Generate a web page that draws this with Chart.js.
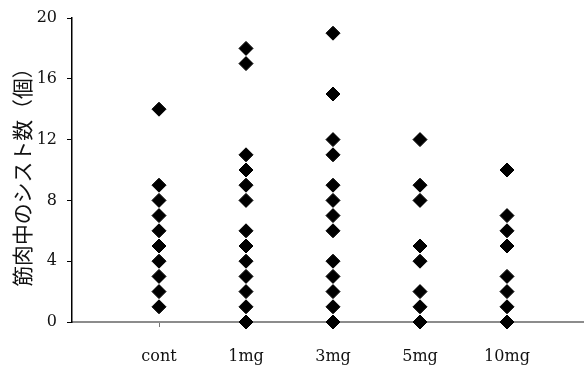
<!DOCTYPE html>
<html>
<head>
<meta charset="utf-8">
<script src="https://cdn.jsdelivr.net/npm/chart.js@4/dist/chart.umd.min.js"></script>
<style>
html,body{margin:0;padding:0;background:#fff;}
#wrap{width:584px;height:369px;}
</style>
</head>
<body>
<div id="wrap"><canvas id="c" width="584" height="369"></canvas></div>
<script>
const categories = ['cont', '1mg', '3mg', '5mg', '10mg'];
const contValues = [14, 9, 8, 7, 6, 5, 4, 3, 2, 1];
const mg1Values = [18, 17, 11, 10, 9, 8, 6, 5, 4, 3, 2, 1, 0];
const mg3Values = [19, 15, 12, 11, 9, 8, 7, 6, 4, 3, 2, 1, 0];
const mg5Values = [12, 9, 8, 5, 4, 2, 1, 0];
const mg10Values = [10, 7, 6, 5, 3, 2, 1, 0];
const yTicks = [0, 4, 8, 12, 16, 20];
const yTitle = '筋肉中のシスト数（個）';

const groups = [contValues, mg1Values, mg3Values, mg5Values, mg10Values];
const points = [];
groups.forEach((vals, i) => vals.forEach(v => points.push({x: i + 1, y: v})));

// Draws the vertical y-axis title, centring its ink on a chosen spot.
const yTitlePlugin = {
  id: 'yTitle',
  afterDraw(chart) {
    const ctx = chart.ctx;
    ctx.save();
    let size = 20;
    ctx.font = size + "px 'Noto Sans CJK JP'";
    let m = ctx.measureText(yTitle);
    let ink = m.actualBoundingBoxLeft + m.actualBoundingBoxRight;
    size = Math.max(18, Math.min(23, size * 216 / ink));
    ctx.font = size + "px 'Noto Sans CJK JP'";
    m = ctx.measureText(yTitle);
    const inkL = m.actualBoundingBoxLeft, inkR = m.actualBoundingBoxRight;
    const asc = m.actualBoundingBoxAscent, desc = m.actualBoundingBoxDescent;
    ctx.translate(22, 179);
    ctx.rotate(-Math.PI / 2);
    ctx.fillStyle = '#111';
    ctx.textAlign = 'left';
    ctx.textBaseline = 'alphabetic';
    ctx.fillText(yTitle, -(inkR - inkL) / 2, (asc - desc) / 2);
    ctx.restore();
  }
};

new Chart(document.getElementById('c'), {
  type: 'scatter',
  data: {
    datasets: [{
      data: points,
      pointStyle: 'rectRot',
      pointRadius: 7,
      pointHoverRadius: 7,
      backgroundColor: '#000',
      borderColor: '#000',
      borderWidth: 1,
      clip: false
    }]
  },
  plugins: [yTitlePlugin],
  options: {
    responsive: false,
    animation: false,
    devicePixelRatio: 1,
    layout: {autoPadding: false, padding: {top: 18, right: 0, left: 0, bottom: 0}},
    plugins: {legend: {display: false}, tooltip: {enabled: false}},
    scales: {
      x: {
        type: 'linear',
        min: 0,
        max: 5.885,
        afterBuildTicks: s => { s.ticks = categories.map((c, i) => ({value: i + 1})); },
        afterFit: s => { s.height = 47; s.paddingLeft = 0; s.paddingRight = 0; },
        ticks: {
          callback: (v) => categories[v - 1] || '',
          color: '#111',
          font: {family: 'DejaVu Serif', size: 16},
          padding: 20,
          maxRotation: 0,
          autoSkip: false
        },
        grid: {drawOnChartArea: false, drawTicks: true, tickLength: 5, color: '#777'},
        border: {color: '#8c8c8c', width: 2}
      },
      y: {
        min: 0,
        max: 20,
        afterBuildTicks: s => { s.ticks = yTicks.map(v => ({value: v})); },
        afterFit: s => { s.width = 72; s.paddingTop = 0; s.paddingBottom = 0; },
        ticks: {
          color: '#111',
          font: {family: 'DejaVu Serif', size: 16},
          padding: 10
        },
        grid: {drawOnChartArea: false, drawTicks: true, tickLength: 5, color: '#000'},
        border: {color: '#000', width: 1.5}
      }
    }
  }
});
</script>
</body>
</html>
